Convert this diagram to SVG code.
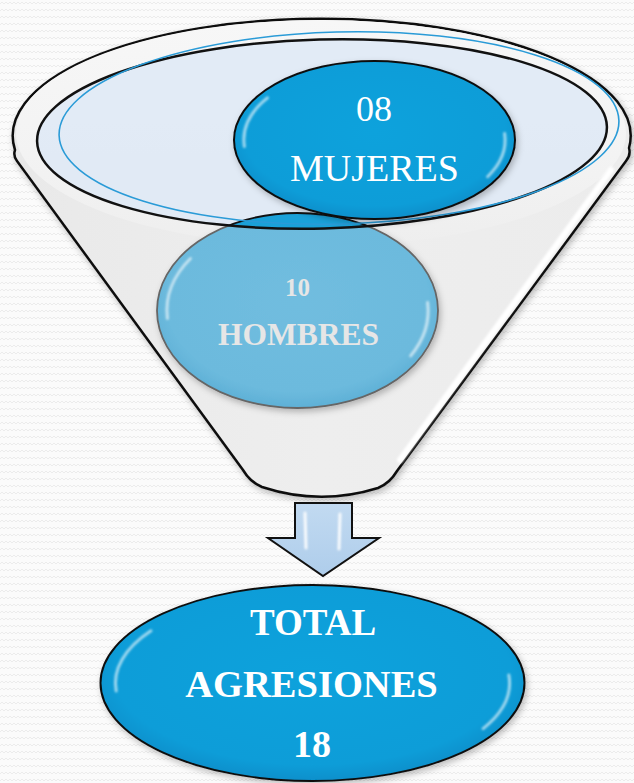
<svg xmlns="http://www.w3.org/2000/svg" xmlns:xlink="http://www.w3.org/1999/xlink" width="634" height="783" viewBox="0 0 634 783">
<defs>
<pattern id="bg" width="8" height="7" patternUnits="userSpaceOnUse">
<rect width="8" height="7" fill="#fbfbfb"/>
<path d="M0,4 L2,2 L4,4 L6,2 L8,4" fill="none" stroke="#ececec" stroke-width="1"/>
</pattern>
<linearGradient id="funnelFill" x1="0" y1="0" x2="1" y2="0">
<stop offset="0" stop-color="#e9e9e9"/>
<stop offset="0.5" stop-color="#eeeeee"/>
<stop offset="1" stop-color="#ececec"/>
</linearGradient>
<linearGradient id="rimFill" x1="0" y1="0" x2="0" y2="1">
<stop offset="0" stop-color="#f7f7f7"/>
<stop offset="0.6" stop-color="#f3f3f3"/>
<stop offset="1" stop-color="#eeeeee"/>
</linearGradient>
<radialGradient id="blueFill" cx="0.5" cy="0.45" r="0.55">
<stop offset="0" stop-color="#0fa2dc"/>
<stop offset="0.85" stop-color="#0b9dd8"/>
<stop offset="1" stop-color="#078fcb"/>
</radialGradient>
<radialGradient id="lightBlueFill" cx="0.5" cy="0.45" r="0.55">
<stop offset="0" stop-color="#70bddf"/>
<stop offset="0.85" stop-color="#6cbadd"/>
<stop offset="1" stop-color="#5eb0d6"/>
</radialGradient>
<linearGradient id="arrowFill" x1="0" y1="0" x2="0" y2="1">
<stop offset="0" stop-color="#c2daf1"/>
<stop offset="1" stop-color="#aecdeb"/>
</linearGradient>
<filter id="shadow" x="-10%" y="-10%" width="125%" height="130%">
<feDropShadow dx="2" dy="3" stdDeviation="3" flood-color="#000" flood-opacity="0.25"/>
</filter>
<filter id="soft" x="-20%" y="-20%" width="140%" height="140%">
<feGaussianBlur stdDeviation="0.8"/>
</filter>
<path id="hlL" d="M-0.762,-0.533 A0.93,0.93 0 0 0 -0.926,0.081" fill="none" stroke="#ffffff" stroke-width="3" stroke-linecap="round" vector-effect="non-scaling-stroke" opacity="0.6"/>
<path id="hlR" d="M0.926,-0.081 A0.93,0.93 0 0 1 0.805,0.465" fill="none" stroke="#ffffff" stroke-width="3" stroke-linecap="round" vector-effect="non-scaling-stroke" opacity="0.6"/>
<clipPath id="innerClip">
<ellipse cx="322" cy="134" rx="285" ry="94.5" transform="rotate(-1.5 322 134)"/>
</clipPath>
</defs>
<style>
.lbl{font-family:"Liberation Serif","Times New Roman",serif;text-anchor:middle;fill:#ffffff}
.bold{font-weight:bold}
.grey{fill:#e6e6e6}
</style>

<rect width="634" height="783" fill="url(#bg)"/>

<g id="funnel">
<path d="M15,150 Q13,156 17,161 L243,470 Q250,482 262,487 Q320,506 378,488 Q390,483 397,471 L626,161 Q631,155 629,148 A309,117 0 1 0 15,150 Z" fill="url(#funnelFill)" stroke="#111" stroke-width="2.5" filter="url(#shadow)"/>
<ellipse cx="321" cy="133" rx="305" ry="113" fill="url(#rimFill)"/>
<line x1="611" y1="170" x2="400" y2="460" stroke="#ffffff" stroke-width="6" stroke-linecap="round" filter="url(#soft)"/>
</g>

<g id="hombres">
<ellipse cx="297.5" cy="310.5" rx="140.5" ry="97.5" fill="url(#lightBlueFill)" stroke="#666" stroke-width="1.8" filter="url(#shadow)"/>
<g filter="url(#soft)">
<use xlink:href="#hlL" transform="translate(297.5 310.5) scale(140.5 97.5)"/>
<use xlink:href="#hlR" transform="translate(297.5 310.5) scale(140.5 97.5)"/>
</g>
<text class="lbl bold grey" x="297.5" y="296" font-size="25">10</text>
<text class="lbl bold grey" x="298.5" y="345" font-size="31.5">HOMBRES</text>
</g>

<g id="funnel-rim">
<ellipse cx="322" cy="134" rx="285" ry="94.5" transform="rotate(-1.5 322 134)" fill="#dfe9f5" fill-opacity="0.92"/>
<g clip-path="url(#innerClip)">
<ellipse cx="297.5" cy="310.5" rx="140.5" ry="97.5" fill="#1aa1d9" stroke="#111" stroke-width="1.8"/>
</g>
<ellipse cx="322" cy="134" rx="285" ry="94.5" transform="rotate(-1.5 322 134)" fill="none" stroke="#111" stroke-width="2.5"/>
<ellipse cx="339" cy="128" rx="280" ry="96" transform="rotate(-1.5 339 128)" fill="none" stroke="#2a9bd7" stroke-width="1.6"/>
</g>

<g id="mujeres">
<ellipse cx="374.5" cy="140" rx="140.5" ry="79" fill="url(#blueFill)" stroke="#111" stroke-width="2" filter="url(#shadow)"/>
<g filter="url(#soft)">
<use xlink:href="#hlL" transform="translate(374.5 140) scale(140.5 79)"/>
<use xlink:href="#hlR" transform="translate(374.5 140) scale(140.5 79)"/>
</g>
<text class="lbl" x="374" y="121" font-size="36">08</text>
<text class="lbl" x="374.5" y="181" font-size="38">MUJERES</text>
</g>

<g id="connectors">
<path d="M295,503 L352,503 L352,538 L379,538 L323,576 L268,538 L295,538 Z" fill="url(#arrowFill)" stroke="#111" stroke-width="2" stroke-linejoin="miter"/>
<g filter="url(#soft)" stroke="#ffffff" stroke-width="3" stroke-linecap="round" opacity="0.9">
<line x1="305" y1="513" x2="306" y2="548"/>
<line x1="340" y1="514" x2="339" y2="549"/>
</g>
</g>

<g id="total">
<ellipse cx="312.5" cy="683" rx="212" ry="98" fill="url(#blueFill)" stroke="#111" stroke-width="2" filter="url(#shadow)"/>
<g filter="url(#soft)">
<use xlink:href="#hlL" transform="translate(312.5 683) scale(212 98)"/>
<use xlink:href="#hlR" transform="translate(312.5 683) scale(212 98)"/>
</g>
<text class="lbl bold" x="313" y="635" font-size="37">TOTAL</text>
<text class="lbl bold" x="311.5" y="697" font-size="38.5">AGRESIONES</text>
<text class="lbl bold" x="312" y="757" font-size="38">18</text>
</g>
</svg>
